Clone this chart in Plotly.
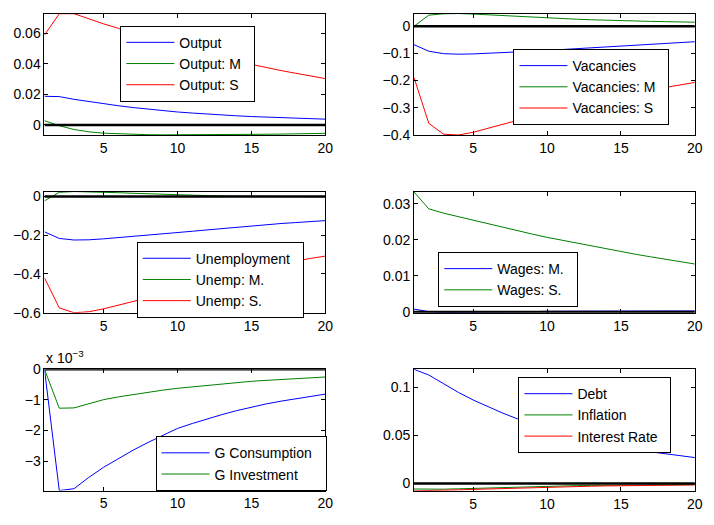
import plotly.graph_objects as go

W, H = 714, 525
t = list(range(1, 21))

# ---- data ----
output = [0.0188, 0.0186, 0.0168, 0.0153, 0.0139, 0.0126, 0.0114, 0.0103, 0.0094, 0.0085,
          0.0078, 0.0071, 0.0065, 0.0060, 0.0055, 0.0051, 0.0047, 0.0044, 0.0041, 0.0038]
output_m = [0.0028, -0.0005, -0.0030, -0.0045, -0.0054, -0.0059, -0.0062, -0.0064, -0.0065, -0.0065,
            -0.0065, -0.0064, -0.0064, -0.0063, -0.0062, -0.0061, -0.0060, -0.0058, -0.0057, -0.0055]
output_s = [0.0590, 0.0730, 0.0730, 0.0695, 0.0663, 0.0634, 0.0602, 0.0571, 0.0542, 0.0514,
            0.0488, 0.0463, 0.0440, 0.0418, 0.0396, 0.0376, 0.0357, 0.0339, 0.0321, 0.0304]

vac = [-0.068, -0.092, -0.101, -0.103, -0.102, -0.100, -0.097, -0.095, -0.092, -0.089,
       -0.086, -0.083, -0.080, -0.077, -0.074, -0.070, -0.067, -0.064, -0.060, -0.057]
vac_m = [0.000, 0.041, 0.046, 0.047, 0.045, 0.042, 0.039, 0.036, 0.033, 0.030,
         0.028, 0.026, 0.024, 0.022, 0.021, 0.020, 0.018, 0.017, 0.016, 0.015]
vac_s = [-0.189, -0.358, -0.398, -0.401, -0.391, -0.377, -0.362, -0.347, -0.332, -0.318,
         -0.304, -0.291, -0.279, -0.267, -0.256, -0.245, -0.235, -0.225, -0.216, -0.207]

unemp = [-0.183, -0.217, -0.225, -0.224, -0.219, -0.213, -0.207, -0.200, -0.194, -0.187,
         -0.180, -0.173, -0.166, -0.158, -0.151, -0.145, -0.140, -0.135, -0.130, -0.125]
unemp_m = [-0.023, 0.021, 0.025, 0.024, 0.022, 0.019, 0.016, 0.013, 0.010, 0.008,
           0.006, 0.004, 0.002, 0.001, 0.000, -0.001, -0.001, -0.002, -0.002, -0.002]
unemp_s = [-0.420, -0.575, -0.600, -0.595, -0.580, -0.562, -0.543, -0.523, -0.502, -0.480,
           -0.458, -0.437, -0.417, -0.398, -0.380, -0.364, -0.348, -0.333, -0.320, -0.308]

wages_m = [0.0008, 0.0001, -0.0001, -0.0001, -0.0001, 0.0000, 0.0000, 0.0001, 0.0001, 0.0002,
           0.0002, 0.0002, 0.0002, 0.0003, 0.0003, 0.0003, 0.0003, 0.0003, 0.0003, 0.0003]
wages_s = [0.0333, 0.0286, 0.0274, 0.0264, 0.0254, 0.0244, 0.0234, 0.0225, 0.0216, 0.0207,
           0.0199, 0.0190, 0.0182, 0.0175, 0.0167, 0.0160, 0.0153, 0.0146, 0.0139, 0.0133]

# in units of 1e-3
g_cons_e3 = [0.0, -3.96, -3.90, -3.53, -3.20, -2.91, -2.64, -2.39, -2.15, -1.93,
             -1.77, -1.62, -1.48, -1.35, -1.23, -1.13, -1.04, -0.96, -0.88, -0.81]
g_inv_e3 = [0.0, -1.27, -1.26, -1.12, -0.99, -0.90, -0.82, -0.75, -0.68, -0.62,
            -0.57, -0.52, -0.47, -0.43, -0.39, -0.36, -0.33, -0.30, -0.27, -0.25]

debt = [0.1184, 0.1125, 0.1035, 0.0945, 0.0866, 0.0795, 0.0730, 0.0670, 0.0615, 0.0565,
        0.0520, 0.0480, 0.0443, 0.0410, 0.0380, 0.0352, 0.0328, 0.0306, 0.0287, 0.0268]
inflation = [-0.0058, -0.0062, -0.0060, -0.0056, -0.0051, -0.0046, -0.0041, -0.0037, -0.0033, -0.0029,
             -0.0026, -0.0023, -0.0021, -0.0019, -0.0017, -0.0016, -0.0015, -0.0014, -0.0013, -0.0012]
interest = [-0.0077, -0.0076, -0.0072, -0.0067, -0.0062, -0.0057, -0.0052, -0.0047, -0.0043, -0.0039,
            -0.0035, -0.0032, -0.0029, -0.0026, -0.0024, -0.0022, -0.0020, -0.0019, -0.0017, -0.0016]

BLUE, GREEN, RED = "rgb(0,0,255)", "rgb(0,128,0)", "rgb(255,0,0)"

panels = [
    dict(series=[("Output", output, BLUE), ("Output: M", output_m, GREEN), ("Output: S", output_s, RED)],
         yrange=[-0.0066, 0.0731], ticks=[0, 0.02, 0.04, 0.06], ticktext=["0", "0.02", "0.04", "0.06"],
         box=(45, 329, 5.7, 131), leg=(121.7, 18.3)),
    dict(series=[("Vacancies", vac, BLUE), ("Vacancies: M", vac_m, GREEN), ("Vacancies: S", vac_s, RED)],
         yrange=[-0.401, 0.047], ticks=[0, -0.1, -0.2, -0.3, -0.4],
         ticktext=["0", "\u22120.1", "\u22120.2", "\u22120.3", "\u22120.4"],
         box=(418.7, 702.7, 5.7, 131), leg=(519.3, 42.3)),
    dict(series=[("Unemployment", unemp, BLUE), ("Unemp: M.", unemp_m, GREEN), ("Unemp: S.", unemp_s, RED)],
         yrange=[-0.600, 0.025], ticks=[0, -0.2, -0.4, -0.6],
         ticktext=["0", "\u22120.2", "\u22120.4", "\u22120.6"],
         box=(45, 329, 189.3, 314.3), leg=(138.3, 241)),
    dict(series=[("Wages: M.", wages_m, BLUE), ("Wages: S.", wages_s, GREEN)],
         yrange=[-0.0002, 0.0334], ticks=[0, 0.01, 0.02, 0.03], ticktext=["0", "0.01", "0.02", "0.03"],
         box=(418.7, 702.7, 189.3, 314.3), leg=(443.3, 251.7)),
    dict(series=[("G Consumption", g_cons_e3, BLUE), ("G Investment", g_inv_e3, GREEN)],
         yrange=[-3.96, 0.0], ticks=[0, -1, -2, -3], ticktext=["0", "\u22121", "\u22122", "\u22123"],
         box=(45, 329, 372.7, 497.7), leg=(157.3, 441.7)),
    dict(series=[("Debt", debt, BLUE), ("Inflation", inflation, GREEN), ("Interest Rate", interest, RED)],
         yrange=[-0.0077, 0.1184], ticks=[0, 0.05, 0.1], ticktext=["0", "0.05", "0.1"],
         box=(418.7, 702.7, 372.7, 498), leg=(524.3, 380.7)),
]

FONT = "Liberation Sans, Arial, Helvetica, sans-serif"
PADR = "\u00a0" * 2
fig = go.Figure()
layout = dict(width=W, height=H, margin=dict(l=0, r=0, t=0, b=0),
              paper_bgcolor="white", plot_bgcolor="white",
              font=dict(family=FONT, size=14, color="black"), showlegend=True)

for i, p in enumerate(panels):
    k = "" if i == 0 else str(i + 1)
    lg = "legend" if i == 0 else f"legend{i + 1}"
    for j, (name, ys, col) in enumerate(p["series"]):
        fig.add_trace(go.Scatter(x=t, y=ys, mode="lines", name=name + PADR,
                                 line=dict(color=col, width=1),
                                 xaxis="x" + k, yaxis="y" + k, legend=lg))
    # zero reference line
    fig.add_trace(go.Scatter(x=[t[0], t[-1]], y=[0, 0], mode="lines",
                             line=dict(color="black", width=2.5), showlegend=False,
                             xaxis="x" + k, yaxis="y" + k, hoverinfo="skip"))
    x0, x1, y0, y1 = p["box"]
    layout["xaxis" + k] = dict(domain=[x0 / W, x1 / W], range=[1, 20], anchor="y" + k,
                               tickvals=[5, 10, 15, 20], ticks="inside", ticklen=4,
                               tickcolor="black", showline=True, linecolor="black",
                               linewidth=1, mirror="allticks", showgrid=False,
                               zeroline=False, tickfont=dict(size=14))
    layout["yaxis" + k] = dict(domain=[1 - y1 / H, 1 - y0 / H], range=p["yrange"],
                               anchor="x" + k, tickvals=p["ticks"], ticktext=p["ticktext"],
                               ticks="inside", ticklen=4, tickcolor="black",
                               showline=True, linecolor="black", linewidth=1,
                               mirror="allticks", showgrid=False, zeroline=False,
                               tickfont=dict(size=14))
    lx, ly = p["leg"]
    layout[lg] = dict(x=lx / W, y=1 - ly / H, xanchor="left", yanchor="top",
                      bgcolor="white", bordercolor="black", borderwidth=1,
                      font=dict(size=14, family=FONT), tracegroupgap=0, itemwidth=48)

layout["annotations"] = [dict(text="x 10<sup>\u22123</sup>", x=45 / W, y=1 - 371 / H,
                              xref="paper", yref="paper", xanchor="left", yanchor="bottom",
                              showarrow=False, font=dict(size=14, family=FONT))]

fig.update_layout(**layout)
fig.write_html("out.html")
